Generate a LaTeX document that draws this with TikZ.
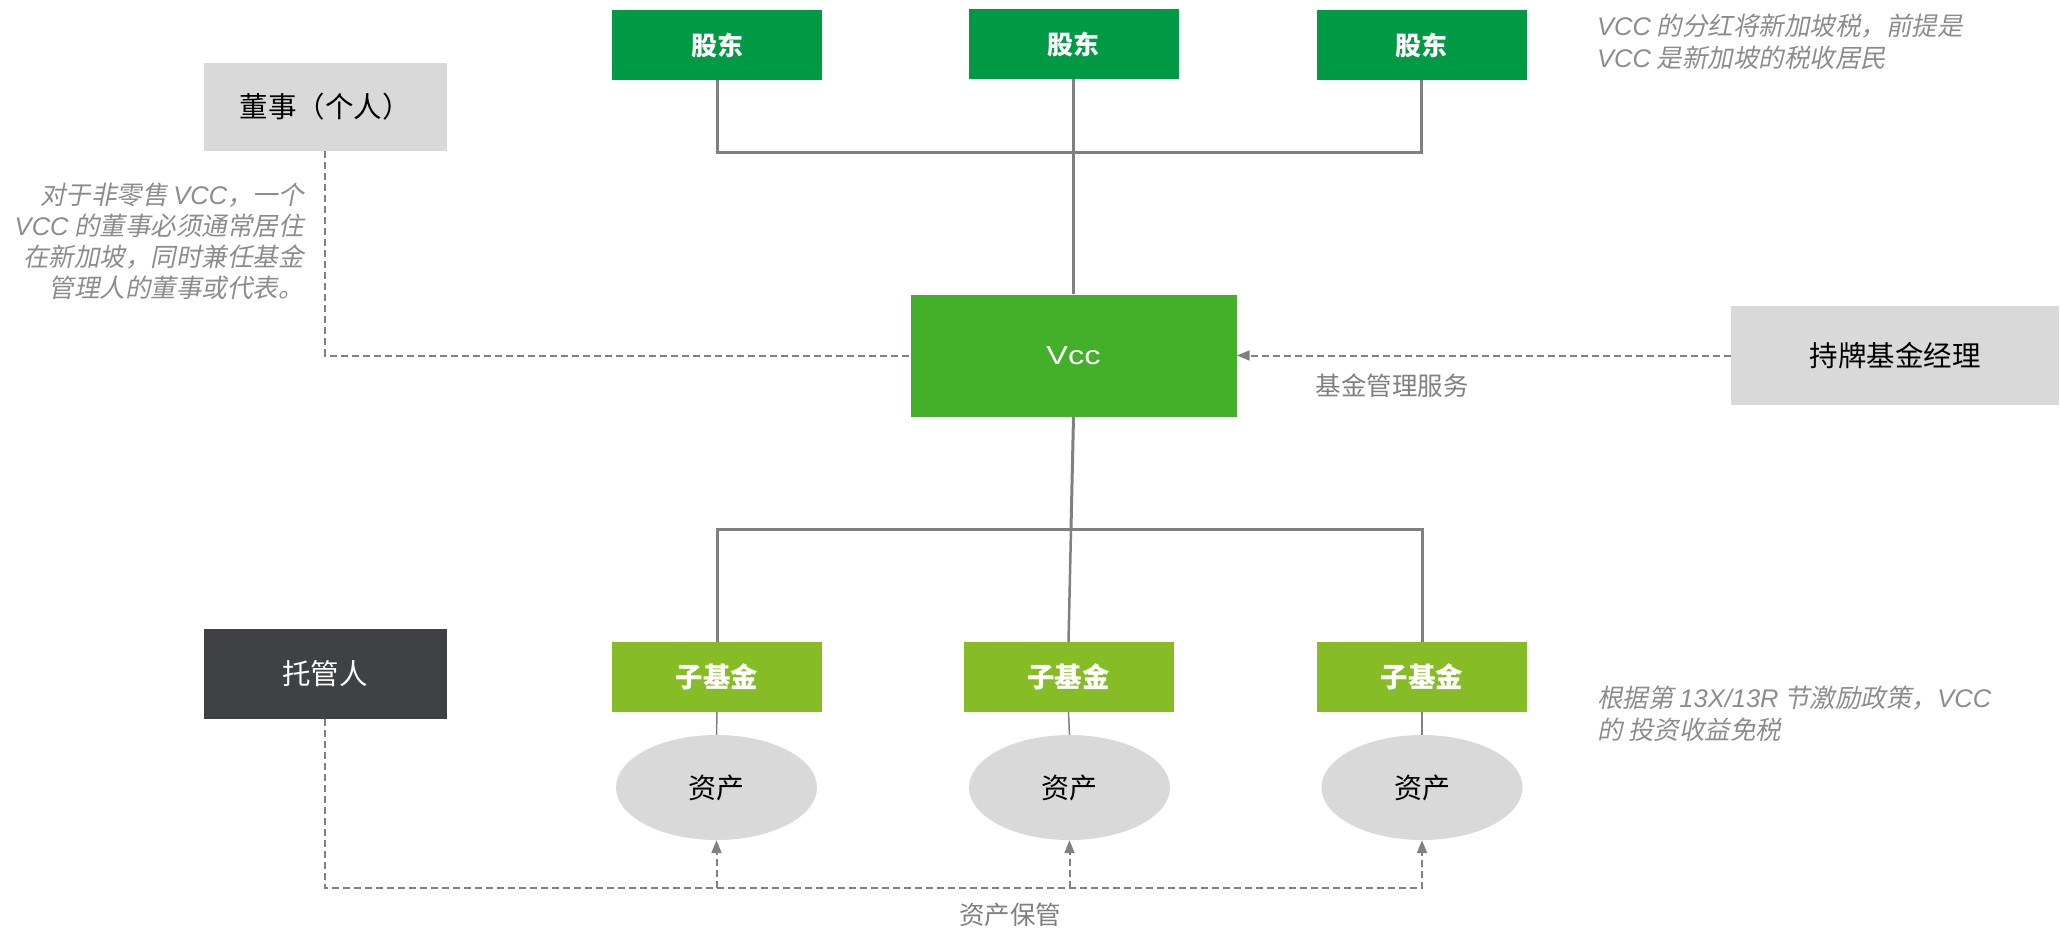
\documentclass[tikz,border=0pt]{standalone}
\usepackage{fontspec}
\setmainfont{Noto Sans CJK SC}
\newfontfamily\notefont{Noto Sans CJK SC}[FakeSlant=0.2]
\newfontfamily\latinfont{Liberation Sans}
\newfontfamily\widefont{Liberation Sans}[FakeStretch=1.25]
\newcommand\myL[1]{{\latinfont\itshape #1}}
\usetikzlibrary{arrows.meta,shapes.geometric}
\definecolor{shgreen}{HTML}{009A44}
\definecolor{vccgreen}{HTML}{43B02A}
\definecolor{subgreen}{HTML}{86BC25}
\definecolor{darkbox}{HTML}{404145}
\definecolor{lightbox}{HTML}{D9D9D9}
\definecolor{linegray}{HTML}{808080}
\definecolor{notegray}{HTML}{8C8C8C}
\tikzset{
  box/.style={rectangle, inner sep=0pt, align=center},
  shbox/.style={box, fill=shgreen, text=white, minimum width=210pt, minimum height=70pt, font=\fontsize{26}{30}\selectfont\bfseries},
  subbox/.style={box, fill=subgreen, text=white, minimum width=210pt, minimum height=70pt, font=\fontsize{27.5}{31}\selectfont\bfseries},
  graybox/.style={box, fill=lightbox, text=black, minimum width=243pt, minimum height=88pt, font=\fontsize{28.5}{32}\selectfont},
  asset/.style={ellipse, fill=lightbox, text=black, inner sep=0pt, minimum width=201pt, minimum height=105pt, font=\fontsize{28}{32}\selectfont},
  solidline/.style={draw=linegray, line width=3pt},
  thinline/.style={draw=linegray, line width=1.5pt},
  dashline/.style={draw=linegray, line width=2pt, dash pattern=on 7pt off 4pt},
  tip/.style={-{Triangle[length=13pt,width=10pt]}},
  note/.style={text=notegray, inner sep=0pt, font=\notefont\fontsize{25.5}{31.5}\selectfont},
  lbl/.style={text=linegray, inner sep=0pt, font=\fontsize{25.5}{30}\selectfont},
}
\begin{document}
\begin{tikzpicture}[x=1pt,y=-1pt]
\useasboundingbox (0,0) rectangle (2060,928);
% shareholders
\node[shbox] (sh1) at (717,45) {股东};
\node[shbox] (sh2) at (1073.5,44) {股东};
\node[shbox] (sh3) at (1421.5,45) {股东};
% director
\node[graybox] (dir) at (325,107) {董事（个人）};
% VCC
\node[box, fill=vccgreen, text=white, minimum width=326pt, minimum height=122pt, font=\widefont\fontsize{26}{30}\selectfont] (vcc) at (1073.5,355.5) {Vcc};
% manager
\node[graybox, minimum width=328pt, minimum height=99pt] (mgr) at (1895,355.5) {持牌基金经理};
% custodian
\node[graybox, fill=darkbox, text=white, minimum height=90pt] (cust) at (325,674) {托管人};
% sub-funds
\node[subbox] (f1) at (717,677) {子基金};
\node[subbox] (f2) at (1068.5,677) {子基金};
\node[subbox] (f3) at (1422,677) {子基金};
% assets
\node[asset] (a1) at (716.5,787.5) {资产};
\node[asset] (a2) at (1069.5,787.5) {资产};
\node[asset] (a3) at (1422,787.5) {资产};
% notes
\node[note, anchor=east, align=right, font=\notefont\fontsize{25.5}{31}\selectfont] (dnote) at (304,241.5) {对于非零售 \myL{VCC}，一个\\\myL{VCC} 的董事必须通常居住\\在新加坡，同时兼任基金\\管理人的董事或代表。};
\node[note, anchor=west, align=left] (tnote) at (1597,42) {\myL{VCC} 的分红将新加坡税，前提是\\\myL{VCC} 是新加坡的税收居民};
\node[note, anchor=west, align=left] (bnote) at (1597,714) {根据第 \myL{13X/13R} 节激励政策，\myL{VCC}\\的 投资收益免税};
\node[lbl] (svc) at (1392,386) {基金管理服务};
\node[lbl] (cus) at (1010,915) {资产保管};
% coordinates
\coordinate (bt) at (1073.5,153);
\coordinate (bb) at (1071,529);
\coordinate (cb) at (325,888);
% shareholder connectors
\draw[solidline] (sh1.south) |- (bt) -| (sh3.south);
\draw[solidline] (sh2.south) -- (vcc.north);
% sub-fund connectors
\draw[solidline] (vcc.south) -- (bb);
\draw[solidline] (f1.north) |- (bb) -| (f3.north);
\draw[solidline, line width=2.5pt] (bb) -- (f2.north);
\draw[thinline] (f1.south) -- (a1.north);
\draw[thinline] (f2.south) -- (a2.north);
\draw[thinline] (f3.south) -- (a3.north);
% director dashed
\draw[dashline] (dir.south) |- (vcc.west);
% manager service
\draw[dashline, tip] (mgr.west) -- (vcc.east);
% custody
\draw[dashline, tip] (cust.south) -- (cb) -| (a3.south);
\draw[dashline, tip] (cb -| a1.south) -- (a1.south);
\draw[dashline, tip] (cb -| a2.south) -- (a2.south);
\end{tikzpicture}
\end{document}
